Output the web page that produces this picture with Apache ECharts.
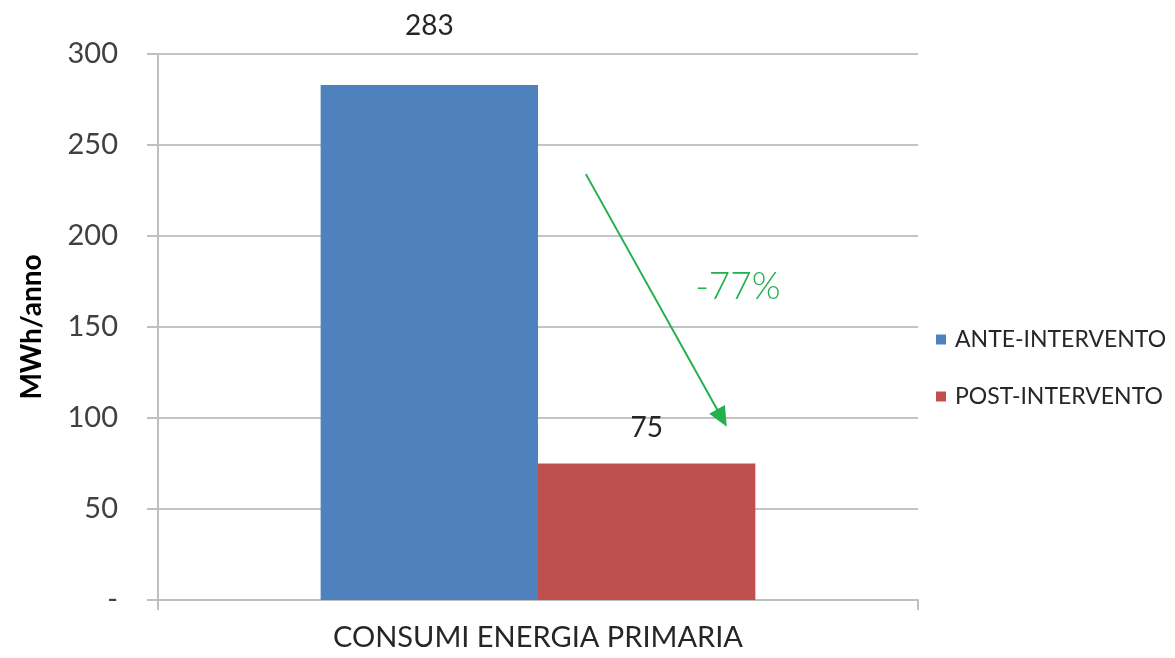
<!DOCTYPE html>
<html><head><meta charset="utf-8">
<script src="https://cdn.jsdelivr.net/npm/echarts@6/dist/echarts.min.js"></script>
<style>html,body{margin:0;padding:0;background:#fff}#c{width:1175px;height:658px}</style>
</head><body><div id="c"></div>
<script>
const categories = ['CONSUMI ENERGIA PRIMARIA'];
const seriesNames = ['ANTE-INTERVENTO', 'POST-INTERVENTO'];
const anteValues = [283];
const postValues = [75];
const yTicks = [0, 50, 100, 150, 200, 250, 300];
const reductionText = '-77%';
// arrow annotation: [fraction across category band, value]
const arrowFrom = [0.563, 234];
const arrowTo = [0.742, 100];
const textAt = [0.763, 172];

const FONT = 'Lato';
const chart = echarts.init(document.getElementById('c'), null, {renderer: 'canvas'});
chart.setOption({
  animation: false,
  backgroundColor: '#ffffff',
  textStyle: {fontFamily: FONT},
  grid: {left: 158, right: 257, top: 54, bottom: 58, containLabel: false},
  legend: {
    orient: 'vertical', left: 931, top: 323,
    itemWidth: 10, itemHeight: 10, itemGap: 34,
    icon: 'rect',
    textStyle: {fontFamily: FONT, fontSize: 23, color: '#262626', padding: [0, 0, 0, 4]},
    data: seriesNames
  },
  xAxis: [{
    type: 'category', data: categories,
    axisLine: {show: true, lineStyle: {color: '#bfbfbf', width: 2}},
    axisTick: {show: true, length: 10, lineStyle: {color: '#bfbfbf', width: 2}},
    axisLabel: {fontFamily: FONT, fontSize: 29, color: '#262626', margin: 23}
  }, {
    type: 'value', min: 0, max: 1, show: false
  }],
  yAxis: {
    type: 'value', min: yTicks[0], max: yTicks[yTicks.length - 1], interval: yTicks[1] - yTicks[0],
    name: 'MWh/anno', nameLocation: 'middle', nameGap: 112, nameRotate: 90,
    nameTextStyle: {fontFamily: FONT, fontSize: 28, fontWeight: 'bold', color: '#000'},
    axisLine: {show: true, lineStyle: {color: '#bfbfbf', width: 2}},
    axisTick: {show: true, length: 11, lineStyle: {color: '#bfbfbf', width: 2}},
    splitLine: {show: true, lineStyle: {color: '#c4c4c4', width: 2}},
    axisLabel: {
      fontFamily: FONT, fontSize: 29, color: '#404040', margin: 40,
      formatter: v => (v === 0 ? '-' : String(v))
    }
  },
  series: [{
    name: seriesNames[0], type: 'bar', data: anteValues,
    barWidth: '28.6%', barGap: '0%',
    itemStyle: {color: '#4f81bd'},
    label: {show: true, position: 'top', distance: 45, fontFamily: FONT, fontSize: 28, color: '#262626'}
  }, {
    name: seriesNames[1], type: 'bar', data: postValues,
    barWidth: '28.6%',
    itemStyle: {color: '#c0504d'},
    label: {show: true, position: 'top', distance: 22, fontFamily: FONT, fontSize: 28, color: '#262626'}
  }, {
    type: 'line', xAxisIndex: 1, data: [], silent: true,
    markLine: {
      silent: true, symbol: ['none', 'triangle'], symbolSize: [18, 20],
      lineStyle: {color: '#22b14c', width: 2, type: 'solid'},
      label: {show: false},
      data: [[{coord: arrowFrom}, {coord: arrowTo}]]
    },
    markPoint: {
      symbol: 'rect', symbolSize: 1, itemStyle: {color: 'transparent'},
      label: {show: true, formatter: reductionText, fontFamily: FONT, fontSize: 37, fontWeight: 300, color: '#22b14c', position: 'inside'},
      data: [{coord: textAt}]
    }
  }]
});
</script></body></html>
